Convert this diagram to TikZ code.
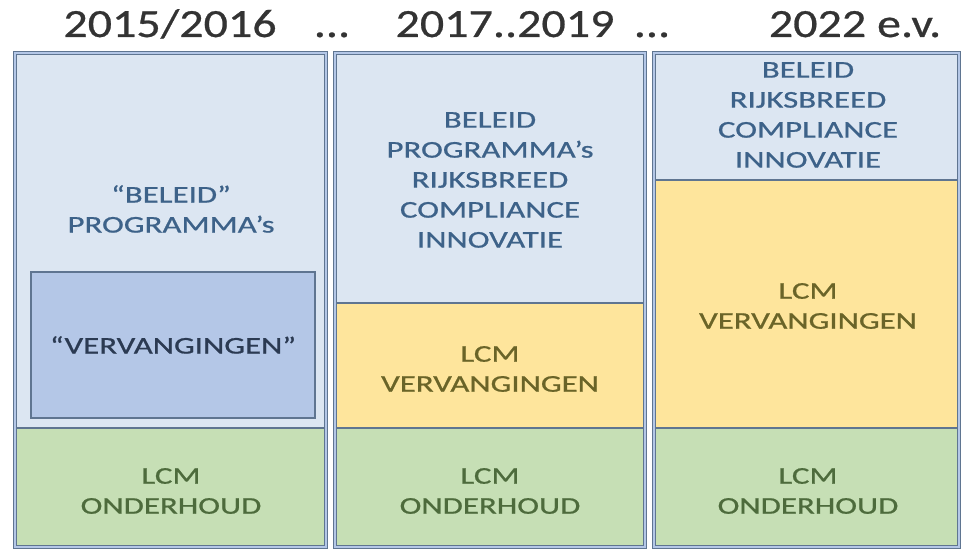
\documentclass[tikz,border=0pt]{standalone}
\usepackage{fontspec}
\setmainfont{Carlito}
\newfontfamily\boxfont[FakeStretch=1.37,FakeBold=0.8]{Carlito}
\newfontfamily\titlefont[FakeStretch=1.2,FakeBold=0.6]{Carlito}
\definecolor{lblue}{HTML}{DCE6F2}
\definecolor{mblue}{HTML}{B4C7E7}
\definecolor{frame}{HTML}{5F7591}
\definecolor{yel}{HTML}{FEE59C}
\definecolor{grn}{HTML}{C6DFB5}
\definecolor{tblue}{HTML}{3D6289}
\definecolor{tyel}{HTML}{6A6428}
\definecolor{tgrn}{HTML}{4D6B3C}
\definecolor{tnavy}{HTML}{2B3A52}
\definecolor{ttitle}{HTML}{333333}
\begin{document}
\begin{tikzpicture}[x=1pt,y=-1pt,
  title/.style={font=\titlefont\fontsize{40}{46}\selectfont, text=ttitle, anchor=base, inner sep=0},
  lbl/.style={font=\boxfont\fontsize{24}{30}\selectfont, align=center, inner sep=0},
  divline/.style={draw=frame, line width=1.3pt},
  colframe/.style={draw=frame, line width=0.9pt, double=mblue, double distance=2.2pt}]
\useasboundingbox (0,0) rectangle (963,551);
\fill[white] (0,0) rectangle (963,551);
% titles
\node[title] (t1) at (170,37) {2015/2016};
\node[title] (d1) at (332,37) {...};
\node[title] (t2) at (505,37) {2017..2019};
\node[title] (d2) at (652,37) {...};
\node[title] (t3) at (855,37) {2022 e.v.};
% column 1
\fill[lblue] (15,53) rectangle (326,428);
\fill[grn] (15,428) rectangle (326,547);
\draw[divline] (15,428) -- (326,428);
\node[draw=frame, line width=1.3pt, fill=mblue, minimum width=284pt, minimum height=146pt, inner sep=0] (v1) at (173,345) {};
\draw[colframe] (15,53) rectangle (326,547);
% column 2
\fill[lblue] (335,53) rectangle (645,303);
\fill[yel] (335,303) rectangle (645,428);
\fill[grn] (335,428) rectangle (645,547);
\draw[divline] (335,303) -- (645,303);
\draw[divline] (335,428) -- (645,428);
\draw[colframe] (335,53) rectangle (645,547);
% column 3
\fill[lblue] (654,53) rectangle (959,180);
\fill[yel] (654,180) rectangle (959,428);
\fill[grn] (654,428) rectangle (959,547);
\draw[divline] (654,180) -- (959,180);
\draw[divline] (654,428) -- (959,428);
\draw[colframe] (654,53) rectangle (959,547);
% labels
\node[lbl, text=tblue] (b1) at (171,209) {“BELEID”\\PROGRAMMA’s};
\node[lbl, text=tnavy] (vv1) at (v1) {“VERVANGINGEN”};
\node[lbl, text=tgrn] (o1) at (171,491) {LCM\\ONDERHOUD};
\node[lbl, text=tblue] (b2) at (490,180) {BELEID\\PROGRAMMA’s\\RIJKSBREED\\COMPLIANCE\\INNOVATIE};
\node[lbl, text=tyel] (v2) at (490,369) {LCM\\VERVANGINGEN};
\node[lbl, text=tgrn] (o2) at (490,491) {LCM\\ONDERHOUD};
\node[lbl, text=tblue] (b3) at (808,115) {BELEID\\RIJKSBREED\\COMPLIANCE\\INNOVATIE};
\node[lbl, text=tyel] (v3) at (808,306) {LCM\\VERVANGINGEN};
\node[lbl, text=tgrn] (o3) at (808,491) {LCM\\ONDERHOUD};
\end{tikzpicture}
\end{document}
